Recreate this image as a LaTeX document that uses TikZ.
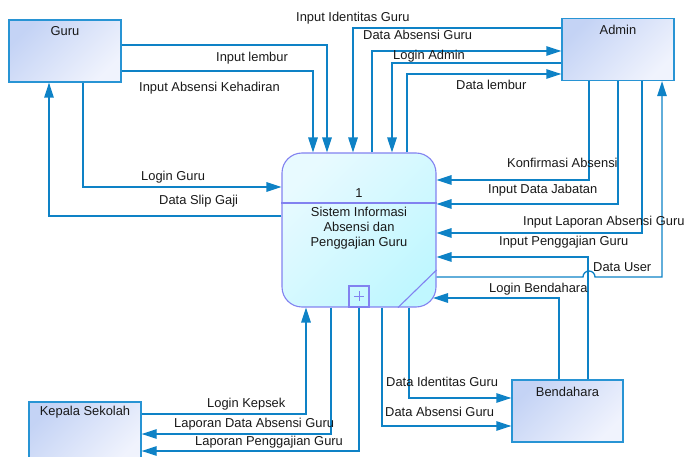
\documentclass[tikz,border=0pt]{standalone}
\usepackage{fontspec}
\setmainfont{Liberation Sans}
\usetikzlibrary{arrows.meta,calc}
\definecolor{flowc}{RGB}{14,130,198}
\definecolor{entc}{RGB}{40,148,212}
\definecolor{entA}{RGB}{196,211,245}
\definecolor{entB}{RGB}{240,243,253}
\definecolor{procc}{RGB}{130,130,240}
\definecolor{procA}{RGB}{232,250,255}
\definecolor{procB}{RGB}{192,247,255}
\definecolor{txtc}{RGB}{25,25,25}
\newcommand\dfdfont{\fontsize{12.9}{15}\selectfont}
\begin{document}
\begin{tikzpicture}[x=1pt,y=-1pt,
  flow/.style={draw=flowc, line width=1.3pt, -{Triangle[length=15pt,width=9.5pt]}},
  ent/.style={draw=entc, line width=1.3pt, shade, top color=entA, bottom color=entB, shading angle=45, inner sep=0, minimum width=112pt, minimum height=62pt},
  entlbl/.style={inner sep=0, font=\dfdfont, text=txtc},
  lbl/.style={anchor=west, inner sep=0, font=\dfdfont, text=txtc},
  procbox/.style={draw=procc, line width=1.1pt, rounded corners=20pt, shade, top color=procA, bottom color=procB, shading angle=45, inner sep=0, minimum width=154pt, minimum height=154pt}]
\useasboundingbox (0,0) rectangle (686,457);

% entities
\node[ent] (guru) at (65,51) {};
\node[entlbl] at (65,31) {Guru};
\node[ent] (admin) at (618,49.5) {};
\node[entlbl] at (618,30) {Admin};
\node[ent, minimum width=111pt] (bend) at (567.5,411) {};
\node[entlbl] at (567.5,392) {Bendahara};
\node[ent] (kep) at (85,433) {};
\node[entlbl] at (85,412) {Kepala Sekolah};

% process
\node[procbox] (proc) at (359,230) {};
\draw[procc, line width=1.1pt] (proc.west |- 0,203) -- (proc.east |- 0,203);
\draw[procc, line width=1.1pt] (proc.east |- 0,270) -- (proc.south -| 398,0);
\node[draw=procc, line width=1.1pt, minimum width=20pt, minimum height=21pt, inner sep=0] (plus) at (359,296.5) {};
\draw[procc, line width=0.7pt] (354,296.5) -- (364,296.5) (359,291.5) -- (359,301.5);
\node[entlbl] at (359,193) {1};
\node[entlbl, align=center] at (359,228.5) {Sistem Informasi\\Absensi dan\\Penggajian Guru};

% Guru flows
\draw[flow] (guru.east |- 0,45) -| (proc.north -| 327,0);
\draw[flow] (guru.east |- 0,71) -| (proc.north -| 313,0);
\draw[flow] (guru.south -| 83,0) |- (proc.west |- 0,187);
\draw[flow] (proc.west |- 0,216) -| (guru.south -| 49,0);

% Admin flows
\draw[flow] (admin.west |- 0,28) -| (proc.north -| 353,0);
\draw[flow] (proc.north -| 372,0) |- (admin.west |- 0,51);
\draw[flow] (admin.west |- 0,63) -| (proc.north -| 392,0);
\draw[flow] (proc.north -| 407,0) |- (admin.west |- 0,74);
\draw[flow] (admin.south -| 589,0) |- (proc.east |- 0,180);
\draw[flow] (admin.south -| 618,0) |- (proc.east |- 0,204);
\draw[flow] (admin.south -| 642,0) |- (proc.east |- 0,233);

% Bendahara flows
\draw[flow] (bend.north -| 588,0) |- (proc.east |- 0,257);
\draw[flow] (proc.east |- 0,277) -- (583,277) arc[start angle=180, end angle=0, radius=6pt] -- (662,277) -- (admin.south -| 662,0);
\coordinate (pb) at (433,298);
\draw[flow] (bend.north -| 559,0) |- (pb);
\draw[flow] (proc.south -| 409,0) |- (bend.west |- 0,398);
\draw[flow] (proc.south -| 382,0) |- (bend.west |- 0,426);

% Kepala Sekolah flows
\draw[flow] (kep.east |- 0,414) -| (proc.south -| 306,0);
\draw[flow] (proc.south -| 331,0) |- (kep.east |- 0,434);
\draw[flow] (plus.south) |- (kep.east |- 0,451);

% labels
\node[lbl] at (296,18) {Input Identitas Guru};
\node[lbl] at (363,35) {Data Absensi Guru};
\node[lbl] at (216,58) {Input lembur};
\node[lbl] at (393,56) {Login Admin};
\node[lbl] at (139,88) {Input Absensi Kehadiran};
\node[lbl] at (456,85) {Data lembur};
\node[lbl] at (507,163) {Konfirmasi Absensi};
\node[lbl] at (141,177) {Login Guru};
\node[lbl] at (488,190) {Input Data Jabatan};
\node[lbl] at (159,201) {Data Slip Gaji};
\node[lbl] at (523,222) {Input Laporan Absensi Guru};
\node[lbl] at (499,242) {Input Penggajian Guru};
\node[lbl] at (593,267) {Data User};
\node[lbl] at (489,289) {Login Bendahara};
\node[lbl] at (386,382) {Data Identitas Guru};
\node[lbl] at (385,412) {Data Absensi Guru};
\node[lbl] at (207,404) {Login Kepsek};
\node[lbl] at (174,424) {Laporan Data Absensi Guru};
\node[lbl] at (195,442) {Laporan Penggajian Guru};
\end{tikzpicture}
\end{document}
